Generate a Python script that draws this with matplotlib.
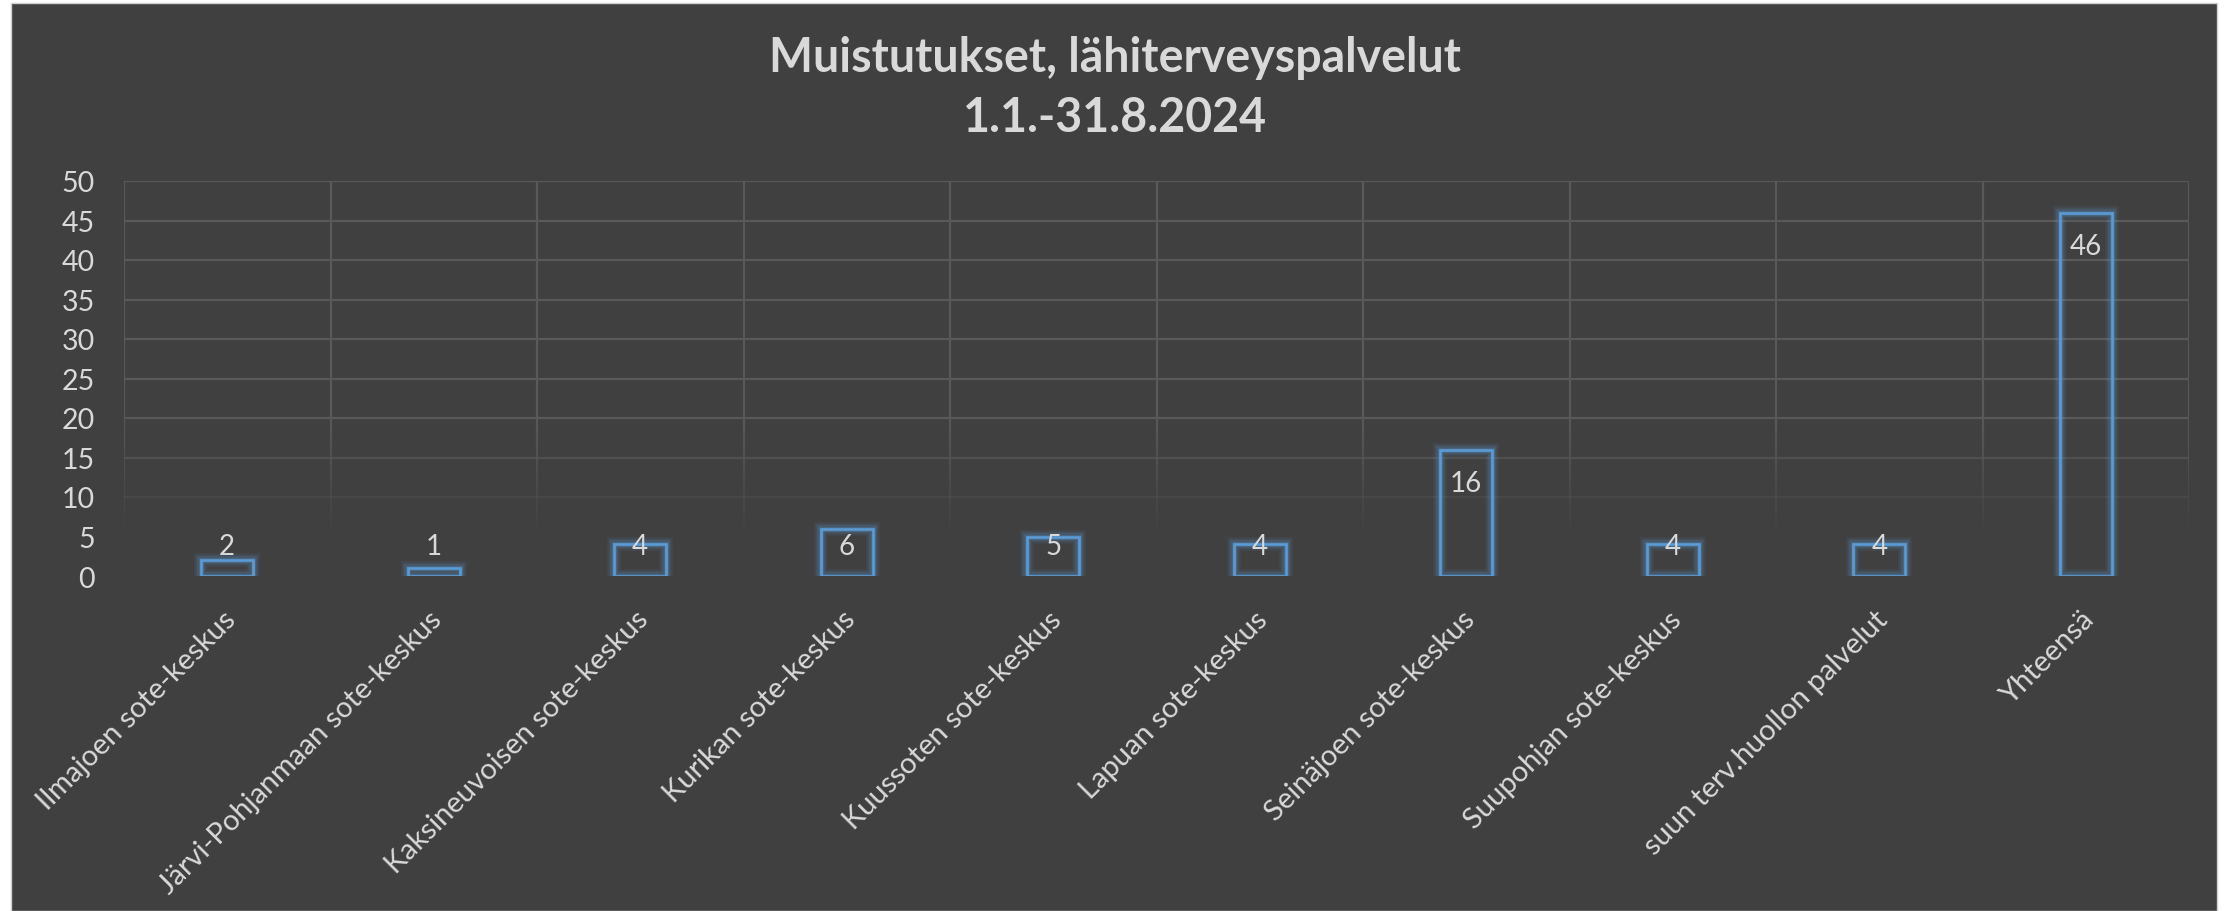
import matplotlib
matplotlib.use("Agg")
import matplotlib.pyplot as plt
import numpy as np
from matplotlib.patches import Rectangle
from matplotlib.collections import LineCollection

categories = ["Ilmajoen sote-keskus", "Järvi-Pohjanmaan sote-keskus",
              "Kaksineuvoisen sote-keskus", "Kurikan sote-keskus",
              "Kuussoten sote-keskus", "Lapuan sote-keskus",
              "Seinäjoen sote-keskus", "Suupohjan sote-keskus",
              "suun terv.huollon palvelut", "Yhteensä"]
values = [2, 1, 4, 6, 5, 4, 16, 4, 4, 46]
yticks = [0, 5, 10, 15, 20, 25, 30, 35, 40, 45, 50]
title1 = "Muistutukset, lähiterveyspalvelut"
title2 = "1.1.-31.8.2024"

BG = "#404040"
TXT = "#D9D9D9"
BLUE = "#5B9BD5"
GRID = "#595959"

plt.rcParams['font.family'] = ['Lato', 'DejaVu Sans']

W, H = 2224, 912
fig = plt.figure(figsize=(W / 100, H / 100), dpi=100)
fig.patch.set_facecolor("#FFFFFF")
bgrect = Rectangle((11 / W, 0), (2217 - 11) / W, 1 - 4 / H,
                   transform=fig.transFigure, facecolor=BG,
                   edgecolor="#D0D0D0", linewidth=1.0, zorder=-10)
fig.patches.append(bgrect)

ax = fig.add_axes([124 / W, 1 - 577 / H, (2189 - 124) / W, (577 - 182) / H])
ax.set_zorder(1)
ax.set_facecolor("none")
ax.set_xlim(-0.5, len(categories) - 0.5)
ax.set_ylim(0, 50)
for s in ax.spines.values():
    s.set_visible(False)


def fade(y):
    return float(np.clip((y - 5) / 15.0, 0.0, 1.0))


gr = tuple(int(GRID[i:i + 2], 16) / 255 for i in (1, 3, 5))

# horizontal gridlines with fade
for t in yticks[1:]:
    ax.axhline(t, color=GRID, lw=1.6, alpha=fade(t), zorder=1)

# vertical gridlines (category boundaries) with fade
ys = np.linspace(4, 50, 120)
for xb in np.arange(-0.5, len(categories), 1.0):
    segs = [[(xb, ys[i]), (xb, ys[i + 1])] for i in range(len(ys) - 1)]
    cols = [gr + (fade((ys[i] + ys[i + 1]) / 2),) for i in range(len(ys) - 1)]
    ax.add_collection(LineCollection(segs, colors=cols, linewidths=1.6, zorder=1))

x = np.arange(len(categories))
# glow layers
for lw, a in [(10, 0.08), (7.5, 0.10), (5.5, 0.14), (3.5, 0.22)]:
    ax.bar(x, values, width=0.25, fill=False, edgecolor=BLUE, linewidth=lw,
           alpha=a, zorder=2)
ax.bar(x, values, width=0.25, fill=False, edgecolor=BLUE, linewidth=1.9, zorder=3)

for xi, v in zip(x, values):
    ly = max(v - 4.2, 3.8)
    ax.text(xi, ly, str(v), ha="center", va="center", color=TXT, fontsize=20,
            zorder=4)

ax.set_yticks(yticks)
ax.set_yticklabels([str(t) for t in yticks])
ax.set_xticks(x)
ax.set_xticklabels([])
ax.tick_params(axis="y", length=0, pad=21, labelsize=20.5, labelcolor=TXT)
ax.tick_params(axis="x", length=0)

for xi, c in zip(x, categories):
    ax.annotate(c, xy=(xi, 0), xycoords="data", xytext=(3, -28),
                textcoords="offset points", rotation=45, rotation_mode="anchor",
                ha="right", va="center", color=TXT, fontsize=21)

fig.text(1115 / W, 1 - 58 / H, title1, ha="center", va="center",
         color=TXT, fontsize=33.5, fontweight="bold")
fig.text(1115 / W, 1 - 118 / H, title2, ha="center", va="center",
         color=TXT, fontsize=33.5, fontweight="bold")

fig.savefig("out.png", dpi=100, facecolor=fig.get_facecolor())
